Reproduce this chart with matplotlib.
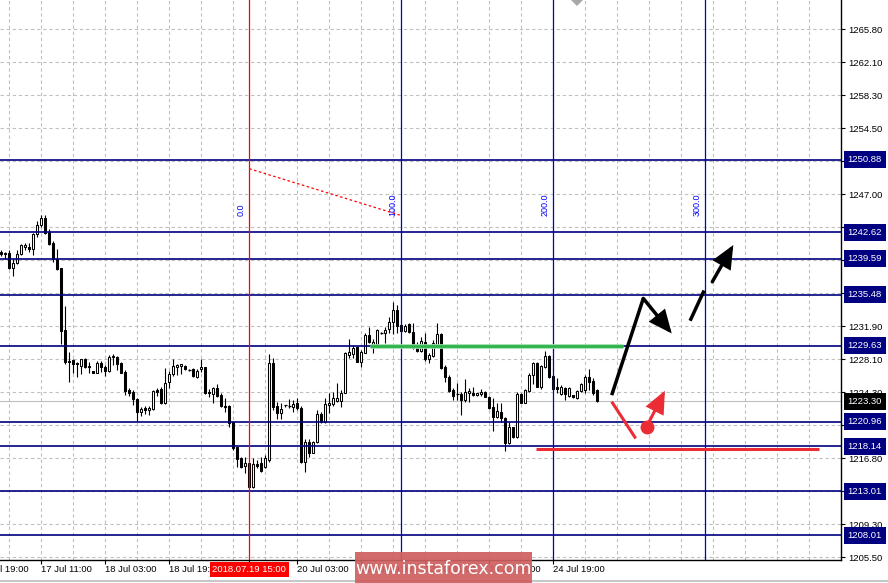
import matplotlib
matplotlib.use("Agg")
import matplotlib.pyplot as plt
import matplotlib.transforms as mtransforms
from matplotlib.patches import Rectangle, Polygon, FancyArrowPatch

plt.rcParams["font.family"] = ["Liberation Sans", "DejaVu Sans"]

NAVY = "#000080"; FIBBLUE = "#0000cc"; CURSOR = "#ff0000"; GRID = "#c0c0c0"
MARKRED = "#ec2c35"; GREEN = "#2db34a"; WATER = "#cf6060"

# H1 gold candles, oldest first (bar index 0 .. 149)
OPEN = [1240.35, 1240.27, 1240.20, 1238.49, 1239.06, 1240.12, 1240.89, 1240.96, 1240.66, 1242.41,
        1243.44, 1244.20, 1242.67, 1241.42, 1239.52, 1238.49, 1231.44, 1227.90, 1228.01, 1227.70,
        1227.36, 1228.09, 1227.36, 1226.72, 1226.56, 1227.70, 1227.25, 1226.79, 1228.50, 1228.39,
        1227.70, 1226.64, 1224.58, 1224.39, 1223.52, 1222.07, 1222.49, 1222.30, 1222.38, 1224.58,
        1224.66, 1223.13, 1225.53, 1226.41, 1227.25, 1227.33, 1227.33, 1226.87, 1226.95, 1226.11,
        1226.95, 1227.18, 1224.39, 1224.09, 1224.78, 1224.01, 1222.79, 1222.76, 1220.96, 1218.04,
        1216.78, 1215.90, 1216.21, 1213.53, 1216.09, 1216.21, 1215.83, 1216.59, 1227.70, 1222.76,
        1221.99, 1222.84, 1222.76, 1222.60, 1223.06, 1222.49, 1216.39, 1218.68, 1217.42, 1218.68,
        1221.81, 1220.96, 1222.87, 1222.98, 1223.36, 1223.36, 1224.28, 1228.58, 1228.70, 1229.53,
        1227.82, 1228.85, 1230.87, 1229.53, 1229.84, 1231.13, 1231.13, 1231.52, 1232.39, 1233.73,
        1232.01, 1231.36, 1232.09, 1231.25, 1229.46, 1229.08, 1230.11, 1228.09, 1228.47, 1229.73,
        1230.98, 1227.25, 1226.04, 1224.58, 1224.13, 1224.13, 1223.44, 1224.28, 1224.21, 1223.98,
        1224.13, 1224.39, 1223.82, 1222.61, 1221.53, 1222.10, 1221.42, 1218.56, 1220.32, 1219.18,
        1224.13, 1223.13, 1224.50, 1226.30, 1227.70, 1224.96, 1227.25, 1228.47, 1226.19, 1224.96,
        1224.13, 1224.85, 1223.90, 1223.98, 1223.63, 1224.50, 1224.58, 1226.04, 1225.65, 1224.58]
HIGH = [1240.58, 1240.35, 1240.58, 1239.52, 1240.58, 1241.27, 1241.35, 1241.35, 1242.49, 1243.93,
        1244.58, 1244.58, 1242.95, 1241.64, 1240.66, 1238.49, 1234.18, 1228.96, 1228.13, 1227.82,
        1228.16, 1228.20, 1227.82, 1226.76, 1227.93, 1227.93, 1227.44, 1228.58, 1228.70, 1228.47,
        1227.82, 1226.87, 1224.78, 1224.58, 1223.63, 1222.68, 1222.76, 1222.76, 1224.58, 1224.78,
        1224.89, 1227.07, 1226.79, 1228.09, 1227.56, 1227.56, 1227.44, 1226.95, 1227.07, 1226.95,
        1228.09, 1227.25, 1224.66, 1224.96, 1225.27, 1224.21, 1223.63, 1222.87, 1221.04, 1218.11,
        1216.97, 1216.97, 1216.28, 1216.78, 1216.59, 1216.89, 1217.16, 1228.70, 1228.21, 1223.24,
        1223.06, 1222.87, 1223.56, 1223.44, 1223.63, 1222.76, 1218.95, 1218.95, 1218.79, 1222.30,
        1222.10, 1223.63, 1224.28, 1224.39, 1225.35, 1224.58, 1228.96, 1230.38, 1229.73, 1229.61,
        1229.16, 1231.13, 1231.82, 1230.38, 1231.52, 1231.25, 1231.82, 1232.96, 1234.67, 1234.30,
        1232.13, 1232.13, 1232.20, 1232.28, 1230.11, 1230.68, 1231.06, 1228.78, 1230.30, 1232.20,
        1231.13, 1227.44, 1226.30, 1224.78, 1225.35, 1224.39, 1225.80, 1224.78, 1224.89, 1224.28,
        1224.66, 1224.50, 1223.90, 1223.63, 1223.06, 1223.06, 1221.53, 1220.96, 1220.39, 1224.39,
        1224.28, 1224.66, 1226.49, 1227.82, 1227.82, 1227.44, 1229.08, 1228.58, 1226.30, 1225.92,
        1225.16, 1224.96, 1224.96, 1224.01, 1224.58, 1225.35, 1226.30, 1226.95, 1225.92, 1224.66]
LOW = [1239.90, 1239.52, 1238.41, 1237.61, 1238.98, 1240.01, 1240.58, 1240.39, 1240.01, 1242.03,
       1243.24, 1242.41, 1241.15, 1239.24, 1238.30, 1229.84, 1227.56, 1225.53, 1226.49, 1226.04,
       1226.41, 1227.07, 1226.49, 1226.53, 1226.49, 1226.68, 1226.19, 1226.68, 1227.44, 1226.87,
       1226.49, 1224.01, 1223.90, 1222.87, 1221.08, 1221.61, 1221.84, 1221.73, 1222.30, 1223.90,
       1222.98, 1222.98, 1224.78, 1226.19, 1226.30, 1226.41, 1226.87, 1226.76, 1226.04, 1225.92,
       1226.68, 1224.13, 1223.82, 1223.06, 1223.75, 1222.68, 1222.10, 1220.32, 1217.73, 1215.75,
       1215.64, 1215.14, 1213.45, 1213.35, 1215.64, 1215.25, 1215.64, 1216.39, 1222.30, 1221.24,
       1221.24, 1222.68, 1222.49, 1222.10, 1222.30, 1216.30, 1215.25, 1216.97, 1217.35, 1218.56,
       1220.85, 1220.85, 1221.99, 1222.76, 1223.24, 1222.68, 1224.21, 1228.20, 1228.20, 1227.75,
       1227.18, 1228.78, 1229.99, 1228.78, 1229.73, 1231.02, 1229.95, 1231.06, 1230.98, 1231.06,
       1231.25, 1231.25, 1231.06, 1229.24, 1228.96, 1228.96, 1227.93, 1227.63, 1228.39, 1229.54,
       1226.95, 1225.53, 1224.39, 1223.44, 1223.44, 1221.73, 1223.24, 1223.24, 1223.90, 1223.90,
       1223.90, 1223.75, 1222.38, 1219.93, 1221.35, 1220.96, 1217.65, 1218.41, 1219.07, 1219.07,
       1223.06, 1223.06, 1224.39, 1225.27, 1224.89, 1224.66, 1227.07, 1225.92, 1224.58, 1224.21,
       1224.01, 1223.44, 1223.82, 1223.71, 1223.52, 1224.39, 1224.21, 1224.58, 1224.01, 1223.25]
CLOSE = [1240.12, 1240.09, 1238.49, 1239.13, 1240.12, 1241.15, 1241.15, 1240.66, 1242.41, 1243.44,
         1244.20, 1242.49, 1241.27, 1239.52, 1238.41, 1231.36, 1227.75, 1227.75, 1227.56, 1227.52,
         1228.09, 1227.25, 1227.25, 1226.56, 1227.70, 1227.18, 1226.79, 1228.39, 1228.32, 1227.56,
         1226.56, 1224.50, 1224.21, 1223.52, 1222.10, 1222.38, 1222.30, 1222.56, 1224.47, 1224.39,
         1223.13, 1225.42, 1226.41, 1227.33, 1227.44, 1227.52, 1226.95, 1226.79, 1226.19, 1226.79,
         1227.18, 1224.28, 1224.21, 1224.78, 1223.90, 1222.76, 1222.68, 1220.85, 1217.92, 1216.67,
         1215.83, 1216.21, 1213.53, 1216.13, 1215.90, 1215.36, 1216.78, 1227.63, 1222.68, 1221.99,
         1222.41, 1222.76, 1222.68, 1222.98, 1222.49, 1216.39, 1218.68, 1217.42, 1218.68, 1221.81,
         1220.96, 1222.98, 1223.06, 1223.70, 1223.70, 1224.28, 1228.85, 1228.96, 1229.35, 1227.82,
         1228.96, 1230.87, 1230.11, 1230.11, 1231.44, 1231.06, 1231.44, 1232.39, 1233.73, 1231.90,
         1231.36, 1231.90, 1231.25, 1229.35, 1229.08, 1230.18, 1228.09, 1228.58, 1229.92, 1230.98,
         1227.07, 1226.04, 1224.50, 1223.90, 1224.05, 1223.44, 1224.39, 1224.50, 1223.98, 1224.21,
         1224.39, 1223.82, 1222.49, 1221.53, 1222.18, 1221.35, 1218.56, 1220.32, 1219.18, 1224.13,
         1223.13, 1224.58, 1226.30, 1227.70, 1224.96, 1227.33, 1228.47, 1226.04, 1224.66, 1224.73,
         1224.89, 1224.13, 1224.85, 1223.75, 1224.50, 1225.23, 1226.11, 1225.53, 1224.21, 1223.30]

LEVELS = [1250.88, 1242.62, 1239.59, 1235.48, 1229.63, 1220.96, 1218.14, 1213.01, 1208.01]
LAST_PRICE = 1223.30
PRICE_TICKS = ["1265.80", "1262.10", "1258.30", "1254.50", "1250.70", "1247.00", "1243.20",
               "1239.40", "1235.70", "1231.90", "1228.10", "1224.30", "1220.50", "1216.80",
               "1213.00", "1209.30", "1205.50"]
TIME_BARS = [-6, 10, 26, 42, 74, 90, 106, 122, 138]
TIME_LABELS = ["16 Jul 19:00", "17 Jul 11:00", "18 Jul 03:00", "18 Jul 19:00", "20 Jul 03:00",
               "20 Jul 19:00", "23 Jul 11:00", "24 Jul 03:00", "24 Jul 19:00"]
CURSOR_BAR, CURSOR_LABEL = 62, "2018.07.19 15:00"
FIB_BARS = [62, 100, 138, 176]
FIB_LABELS = ["0.0", "100.0", "200.0", "300.0"]

# hand-drawn analysis marks (bar index, price)
TREND_X, TREND_Y = [62, 100], [1249.87, 1244.52]
GREEN_X, GREEN_Y = [92.2, 155.4], [1229.66, 1229.66]
RED_X, RED_Y = [133.7, 204.4], [1217.90, 1217.90]
UP_LEG_X, UP_LEG_Y = [152.6, 160.5], [1224.0, 1235.05]
DOWN_ARROW = [(160.5, 1235.05), (167.6, 1231.05)]
MID_X, MID_Y = [172.2, 175.7], [1232.5, 1235.95]
UP_ARROW = [(177.75, 1236.95), (183.0, 1241.15)]
RED_LEG_X, RED_LEG_Y = [152.6, 158.6], [1223.25, 1219.05]
RED_DOT = (161.35, 1220.4)
RED_ARROW = [(161.35, 1220.4), (165.9, 1224.5)]

W, H = 888, 583
fig = plt.figure(figsize=(W / 100, H / 100), dpi=100)
fig.patch.set_facecolor("white")
ax = fig.add_axes([0, 23 / H, 841 / W, 560 / H])

# grid
tick_pos = [1265.8 - i * (1265.8 - 1205.5) / 16 for i in range(17)]
for b in range(2, 210, 8):
    ax.axvline(b, color=GRID, lw=0.8, ls=(0, (3, 2.5)), zorder=0)
for p in tick_pos:
    ax.axhline(p, color=GRID, lw=0.8, ls=(0, (3, 2.5)), zorder=0)

ax.axhline(LAST_PRICE, color="#c0c0c0", lw=0.8, zorder=1)

# candles
xs = list(range(len(OPEN)))
ax.vlines(xs, LOW, HIGH, color="black", lw=0.8, zorder=3)
for i, (o, c) in enumerate(zip(OPEN, CLOSE)):
    lo, hi = min(o, c), max(o, c)
    if hi - lo < 0.1:
        ax.hlines(o, i - 0.4, i + 0.4, color="black", lw=0.9, zorder=4)
    else:
        ax.bar(i, hi - lo, bottom=lo, width=0.55, color="white" if c > o else "black",
               edgecolor="black", lw=0.75, zorder=4)

# horizontal levels
for lvl in LEVELS:
    ax.axhline(lvl, color=NAVY, lw=1.2, zorder=5)

# fibo time zones + cursor
for b, lab in zip(FIB_BARS, FIB_LABELS):
    ax.axvline(b, color=CURSOR if b == CURSOR_BAR else FIBBLUE, lw=0.9, zorder=5)
    ax.text(b - 0.9, 1244.5, lab, rotation=90, ha="right", va="bottom", color="blue",
            fontsize=6.5, zorder=6)
ax.plot(TREND_X, TREND_Y, color="red", lw=0.9, ls=(0, (2, 2)), zorder=6)

# analysis marks
ax.plot(GREEN_X, GREEN_Y, color="#9fdcac", lw=3.4, solid_capstyle="butt", zorder=6)
ax.plot(GREEN_X, GREEN_Y, color=GREEN, lw=2.0, solid_capstyle="butt", zorder=6)
ax.plot(RED_X, RED_Y, color=MARKRED, lw=2.2, solid_capstyle="butt", zorder=6)
ax.plot(UP_LEG_X, UP_LEG_Y, color="black", lw=2.5, solid_capstyle="butt", zorder=7)
ax.plot(MID_X, MID_Y, color="black", lw=2.5, solid_capstyle="butt", zorder=7)
for (a, b), col in [(DOWN_ARROW, "black"), (UP_ARROW, "black"), (RED_ARROW, MARKRED)]:
    ax.add_patch(FancyArrowPatch(a, b, arrowstyle="-|>,head_length=0.45,head_width=0.2",
                                 mutation_scale=28, color=col, lw=2.5 if col == "black" else 2.2,
                                 shrinkA=0, shrinkB=0, joinstyle="miter", zorder=7))
ax.plot(RED_LEG_X, RED_LEG_Y, color=MARKRED, lw=2.2, solid_capstyle="butt", zorder=7)
ax.plot(*RED_DOT, "o", color=MARKRED, ms=9, zorder=8)

# axes frame
for side in ["left", "top"]:
    ax.spines[side].set_visible(False)
for side in ["right", "bottom"]:
    ax.spines[side].set_color("black")
    ax.spines[side].set_linewidth(1.0)
ax.yaxis.tick_right()
ax.set_yticks(tick_pos)
ax.set_yticklabels(PRICE_TICKS)
ax.tick_params(axis="y", length=3, width=0.8, pad=2.2, labelsize=6.8, colors="black")
ax.set_xticks(TIME_BARS + [CURSOR_BAR])
ax.set_xticklabels([])
ax.tick_params(axis="x", length=3, width=0.8)
# limits last: set_xticks would otherwise widen the view
ax.set_xlim(-0.325, 209.925)
ax.set_ylim(1205.16, 1269.15)

ytr = mtransforms.blended_transform_factory(ax.transAxes, ax.transData)
for lvl in LEVELS:
    ax.text(1 + 6.5 / 841, lvl, f"{lvl:.2f}", transform=ytr, ha="left", va="center", color="white",
            fontsize=6.8, clip_on=False, zorder=10,
            bbox=dict(boxstyle="square,pad=0.42", fc=NAVY, ec="none"))
ax.text(1 + 6.5 / 841, LAST_PRICE, f"{LAST_PRICE:.2f}", transform=ytr, ha="left", va="center",
        color="white", fontsize=6.8, clip_on=False, zorder=10,
        bbox=dict(boxstyle="square,pad=0.42", fc="black", ec="none"))

xtr = mtransforms.blended_transform_factory(ax.transData, ax.transAxes)
for b, lab in zip(TIME_BARS, TIME_LABELS):
    ax.text(b, -9.5 / 560, lab, transform=xtr, ha="left", va="center", fontsize=6.8,
            clip_on=False, zorder=9)
ax.text(CURSOR_BAR, -9.5 / 560, CURSOR_LABEL, transform=xtr, ha="center", va="center",
        fontsize=6.8, color="white", clip_on=False, zorder=11,
        bbox=dict(boxstyle="square,pad=0.3", fc=CURSOR, ec="none"))

# chart-shift marker, bottom border, watermark
fig.patches.append(Polygon([(571 / W, 1), (583 / W, 1), (577 / W, 1 - 6 / H)], closed=True,
                           transform=fig.transFigure, fc="#a8a8a8", ec="none", zorder=20))
fig.lines.append(plt.Line2D([0, 1], [2 / H, 2 / H], transform=fig.transFigure, color="#c8c8c8", lw=1.5))
fig.patches.append(Rectangle((355 / W, 0), 177 / W, 31 / H, transform=fig.transFigure,
                             fc=WATER, ec="none", alpha=0.92, zorder=20))
fig.text(443.5 / W, 14.5 / H, "www.instaforex.com", ha="center", va="center", color="white",
         fontsize=12.5, family="DejaVu Sans", zorder=21)

fig.savefig("out.png", dpi=100, facecolor="white")
